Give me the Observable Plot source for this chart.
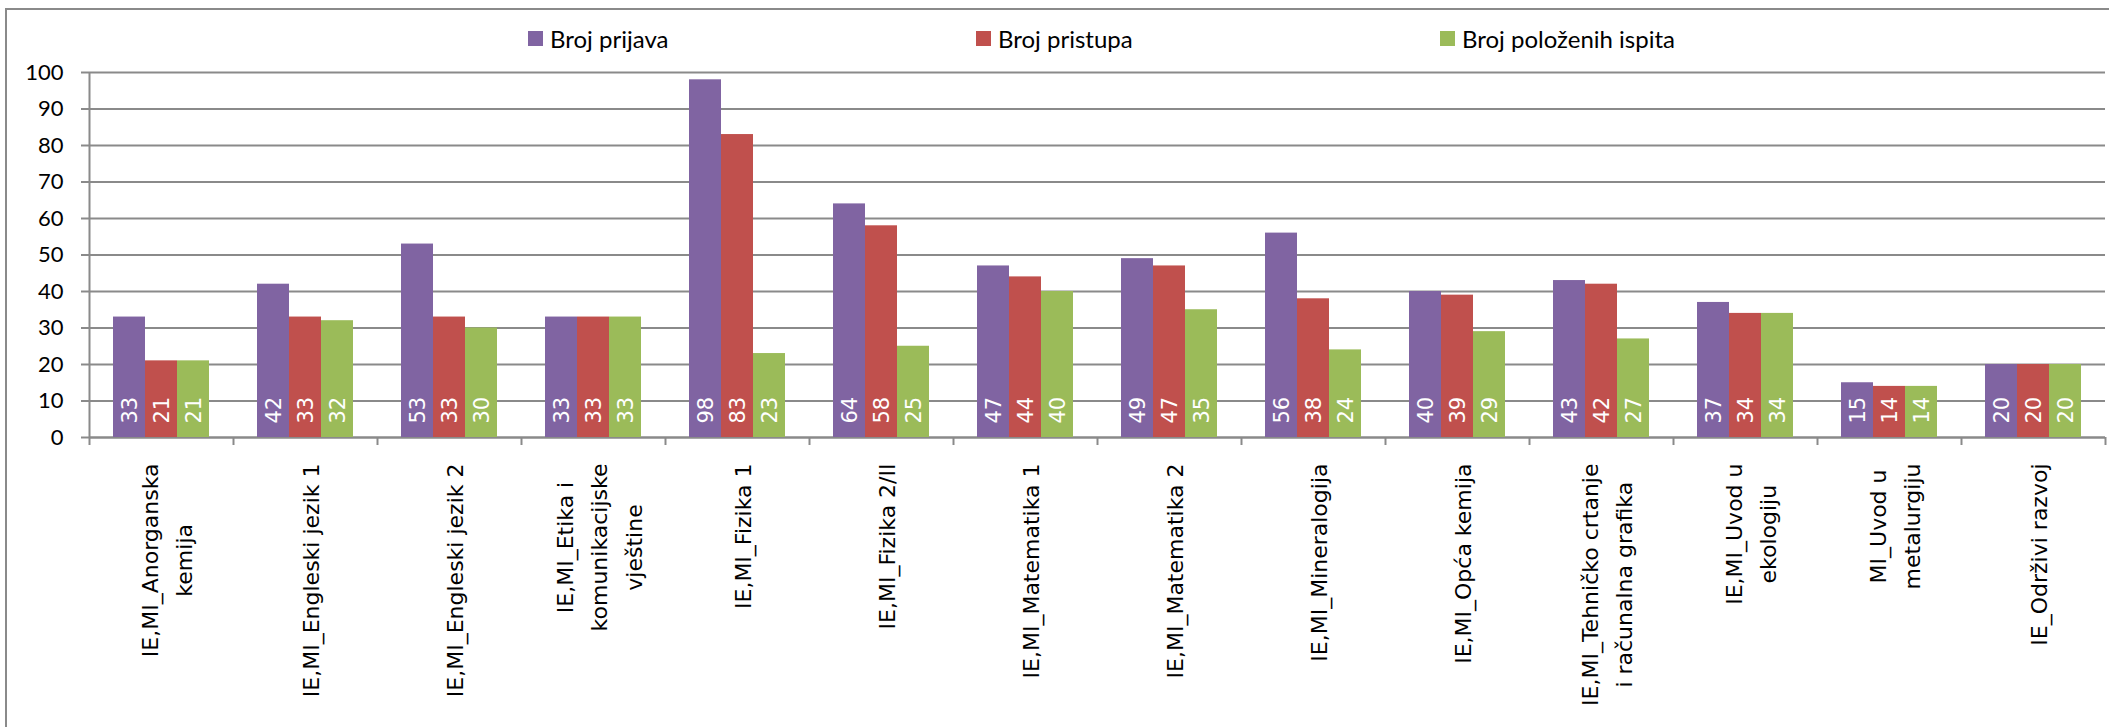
<!DOCTYPE html>
<html><head><meta charset="utf-8">
<script src="https://cdn.jsdelivr.net/npm/d3@7"></script>
<script src="https://cdn.jsdelivr.net/npm/@observablehq/plot@0.6"></script>
<style>
html,body{margin:0;padding:0;background:#fff;overflow:hidden;color:#000;}
#wrap{position:relative;width:2109px;height:727px;overflow:hidden;}
#frame{position:absolute;left:5px;top:8px;width:2300px;height:900px;border:2px solid #8a8a8a;box-sizing:border-box;pointer-events:none;}
#legend{position:relative;height:50px;}
.item{position:absolute;top:23px;height:30px;display:flex;align-items:center;font-family:Lato,sans-serif;font-size:24px;color:#000;white-space:nowrap;}
.sw{width:15px;height:15px;margin-right:7px;}
#chart svg{display:block;}
</style></head>
<body><div id="wrap"><div id="frame"></div><div id="legend"></div><div id="chart"></div></div>
<script>
const categories = [
  "IE,MI_Anorganska\nkemija",
  "IE,MI_Engleski jezik 1",
  "IE,MI_Engleski jezik 2",
  "IE,MI_Etika i\nkomunikacijske\nvještine",
  "IE,MI_Fizika 1",
  "IE,MI_Fizika 2/II",
  "IE,MI_Matematika 1",
  "IE,MI_Matematika 2",
  "IE,MI_Mineralogija",
  "IE,MI_Opća kemija",
  "IE,MI_Tehničko crtanje\ni računalna grafika",
  "IE,MI_Uvod u\nekologiju",
  "MI_Uvod u\nmetalurgiju",
  "IE_Održivi razvoj"
];
const seriesNames = ["Broj prijava", "Broj pristupa", "Broj položenih ispita"];
const brojPrijava  = [33, 42, 53, 33, 98, 64, 47, 49, 56, 40, 43, 37, 15, 20];
const brojPristupa = [21, 33, 33, 33, 83, 58, 44, 47, 38, 39, 42, 34, 14, 20];
const brojPolozenih = [21, 32, 30, 33, 23, 25, 40, 35, 24, 29, 27, 34, 14, 20];
const seriesColors = ["#8064A2", "#C0504D", "#9BBB59"];
const yTicks = [0, 10, 20, 30, 40, 50, 60, 70, 80, 90, 100];
const legendLeft = [528, 976, 1440];

const seriesValues = [brojPrijava, brojPristupa, brojPolozenih];
const rows = categories.flatMap((c, ci) => seriesValues.map((arr, si) => ({ci, si, series: seriesNames[si], value: arr[ci]})));

// legend
const legend = document.getElementById("legend");
seriesNames.forEach((name, i) => {
  const it = document.createElement("div");
  it.className = "item";
  it.style.left = legendLeft[i] + "px";
  const sw = document.createElement("span");
  sw.className = "sw";
  sw.style.background = seriesColors[i];
  const tx = document.createElement("span");
  tx.textContent = name;
  it.appendChild(sw); it.appendChild(tx);
  legend.appendChild(it);
});

const n = categories.length;
const gap = 1/6, bw = 2/9;
const grid = "#8a8a8a";

const ctx = document.createElement("canvas").getContext("2d");
ctx.font = "22px 'DejaVu Sans'";

const labelMarks = categories.map((c, i) => {
  const lines = c.split("\n");
  const w = Math.max(...lines.map(l => ctx.measureText(l).width));
  return Plot.text([c], {
    x: () => i + 0.5, y: () => 0, text: d => d,
    rotate: -90, textAnchor: "middle", lineAnchor: "middle", lineHeight: 1.55,
    dx: 3, dy: 26 + w / 2, fontSize: 22, fontFamily: "DejaVu Sans", fill: "#000"
  });
});

const chart = Plot.plot({
  width: 2109, height: 677,
  marginLeft: 89, marginRight: 4, marginTop: 22, marginBottom: 290,
  x: {domain: [0, n], axis: null},
  y: {domain: [0, 100], axis: null},
  color: {domain: seriesNames, range: seriesColors},
  style: {background: "transparent", fontFamily: "Lato", fontSize: "22px", overflow: "visible", color: "#000"},
  marks: [
    Plot.gridY(yTicks, {stroke: grid, strokeOpacity: 1, strokeWidth: 2}),
    Plot.axisY(yTicks, {tickSize: 8, tickPadding: 18, stroke: grid, strokeWidth: 2, fontSize: 22, fontFamily: "Lato", label: null}),
    Plot.axisX(d3.range(n + 1), {tickSize: 8, stroke: grid, strokeWidth: 2, tickFormat: () => "", label: null}),
    Plot.ruleX([0], {y1: 0, y2: 100, stroke: grid, strokeWidth: 2}),
    Plot.ruleY([0], {stroke: grid, strokeWidth: 2}),
    Plot.rectY(rows, {
      x1: d => d.ci + gap + d.si * bw,
      x2: d => d.ci + gap + (d.si + 1) * bw,
      y1: 0, y2: "value", fill: "series"
    }),
    Plot.text(rows, {
      x: d => d.ci + gap + (d.si + 0.5) * bw, y: () => 0,
      text: d => String(d.value), rotate: -90, textAnchor: "start",
      dx: 1, dy: -14, fill: "#fff", fontSize: 21, fontFamily: "DejaVu Sans"
    }),
    ...labelMarks
  ]
});
document.getElementById("chart").appendChild(chart);
</script>
</body></html>
